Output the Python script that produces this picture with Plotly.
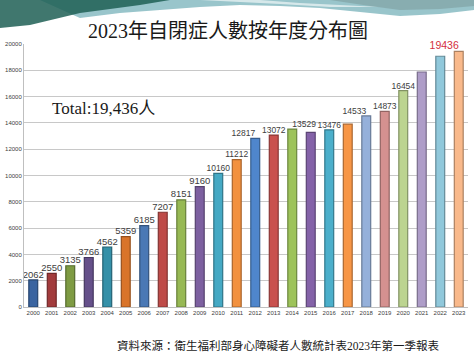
import plotly.graph_objects as go

years = [str(y) for y in range(2000, 2024)]
counts = [2062, 2550, 3135, 3766, 4562, 5359, 6185, 7207, 8151, 9160, 10160, 11212,
          12817, 13072, 13529, 13280, 13476, 13900, 14533, 14873, 16454, 17870, 19070, 19436]
labels = ["2062", "2550", "3135", "3766", "4562", "5359", "6185", "7207", "8151", "9160",
          "10160", "11212", "12817", "13072", "13529", "", "13476", "", "14533", "14873",
          "16454", "", "", "19436"]
label_pos = ["top center"] * 12 + ["top left", "top center", "top right", "top center",
                                   "top center", "top center", "top left", "top center",
                                   "top center", "top center", "top center", "top left"]
bar_colors = ["#3A64A0", "#A23B3C", "#7E9B43", "#65508A", "#3590A8", "#D9742A",
              "#4A78B5", "#BE4B48", "#97B954", "#7D60A0", "#45A9C4", "#F2913F",
              "#4F86CC", "#C9514E", "#9DC35A", "#8462A8", "#4BAFCB", "#F79646",
              "#95B0DA", "#D59190", "#BCD490", "#AE9DC8", "#90C8DB", "#F9B98B"]
edge_colors = ["#27466F", "#702829", "#566B2E", "#45375F", "#246274", "#95501D",
               "#33527C", "#833432", "#68803A", "#56426E", "#2F7487", "#A9642B",
               "#365D8D", "#8B3836", "#6C873E", "#5B4474", "#33798C", "#AA6730",
               "#677A97", "#936463", "#829263", "#786C8A", "#638A97", "#AC8060"]
label_colors = ["#404040"] * 23 + ["#D42E3C"]
label_sizes = [9.5] * 10 + [8.5] * 13 + [10.5]
y_ticks = list(range(0, 20001, 2000))

W, H = 474, 355
L, R, T, B = 24, 6, 44, 48


def px(x):
    return (x - L) / (W - L - R)


def py(y):
    return (H - B - y) / (H - T - B)


def path(points):
    s = "M " + " L ".join(f"{px(a):.4f},{py(b):.4f}" for a, b in points) + " Z"
    return s


fig = go.Figure()
fig.add_trace(go.Bar(
    x=years, y=counts,
    marker=dict(color=bar_colors, line=dict(color=edge_colors, width=1.2)),
    hoverinfo="x+y",
))
fig.add_trace(go.Scatter(
    x=years, y=counts, text=labels, mode="text", textposition=label_pos,
    textfont=dict(color=label_colors, size=label_sizes, family="Liberation Sans, Arial"),
    cliponaxis=False, hoverinfo="skip",
))

shapes = [
    dict(type="path", xref="paper", yref="paper", line=dict(width=0),
         fillcolor="rgba(70,150,160,0.55)",
         path=path([(40, 0), (474, 0), (474, 10), (440, 14), (400, 16), (360, 12),
                    (320, 8), (280, 6), (240, 5), (200, 7), (160, 10), (120, 13), (80, 18)])),
    dict(type="path", xref="paper", yref="paper", line=dict(width=0),
         fillcolor="rgba(30,95,85,0.85)",
         path=path([(0, 0), (170, 0), (140, 5), (110, 9), (80, 13), (55, 19), (30, 25), (0, 28)])),
    dict(type="path", xref="paper", yref="paper", line=dict(width=0),
         fillcolor="rgba(255,255,255,0.6)",
         path=path([(200, 0), (260, 0), (300, 3), (340, 5), (380, 7), (330, 7), (280, 4), (240, 2)])),
    dict(type="path", xref="paper", yref="paper", line=dict(width=0),
         fillcolor="rgba(120,150,150,0.5)",
         path=path([(330, 0), (474, 0), (474, 6), (440, 9), (400, 10), (370, 6)])),
]

fig.update_layout(
    width=W, height=H,
    margin=dict(l=L, r=R, t=T, b=B),
    paper_bgcolor="white", plot_bgcolor="white",
    showlegend=False, bargap=0.52,
    shapes=shapes,
    xaxis=dict(type="category", range=[-0.5, len(years) - 0.5],
               tickfont=dict(size=6, color="#404040", family="Liberation Sans, Arial"),
               showgrid=False, showline=True, linecolor="#bfbfbf", ticks="", ticklen=0),
    yaxis=dict(range=[0, 20000], tickvals=y_ticks, tickformat="d",
               tickfont=dict(size=6, color="#404040", family="Liberation Sans, Arial"),
               showgrid=True, gridcolor="#c8c8c8", gridwidth=1.2, zeroline=False,
               showline=True, linecolor="#bfbfbf", ticks=""),
    annotations=[
        dict(text="2023年自閉症人數按年度分布圖", xref="paper", yref="paper",
             x=px(228), y=py(31), xanchor="center", yanchor="middle", showarrow=False,
             font=dict(size=20, color="#1a1a1a", family="Liberation Serif, Noto Sans CJK TC")),
        dict(text="Total:19,436人", xref="paper", yref="paper",
             x=px(50), y=py(108), xanchor="left", yanchor="middle", showarrow=False,
             font=dict(size=17, color="#1a1a1a", family="Liberation Serif, Noto Sans CJK TC")),
        dict(text="資料來源：衛生福利部身心障礙者人數統計表2023年第一季報表", xref="paper", yref="paper",
             x=px(278), y=py(345), xanchor="center", yanchor="middle", showarrow=False,
             font=dict(size=11.5, color="#1a1a1a", family="Liberation Serif, Noto Sans CJK TC")),
    ],
)

fig.write_html("out.html", config={"displayModeBar": False},
               post_script="document.body.style.margin='0';document.body.style.overflow='hidden';")
